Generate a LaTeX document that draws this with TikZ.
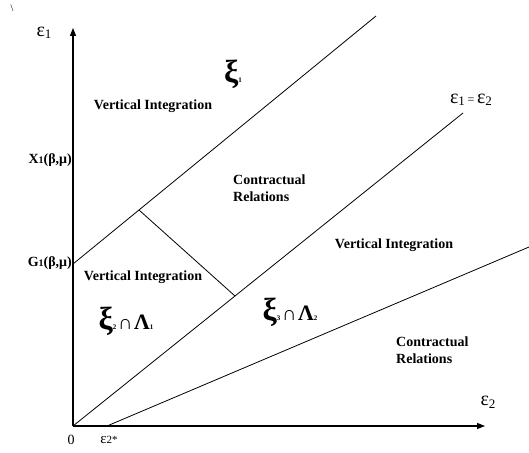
\documentclass[tikz,border=0pt]{standalone}
\usepackage{fontspec}
\setmainfont{Liberation Serif}
\usetikzlibrary{arrows.meta}
\newcommand{\epsx}[1]{{\fontsize{20}{20}\selectfont ε}\raisebox{-0.35ex}{\fontsize{13}{13}\selectfont #1}}
\newcommand{\xipart}[1]{{\fontsize{32}{32}\selectfont\bfseries ξ}{\fontsize{7}{7}\selectfont\bfseries #1}}
\newcommand{\lampart}[1]{{\fontsize{22}{22}\selectfont\bfseries Λ}{\fontsize{7}{7}\selectfont\bfseries #1}}
\newcommand{\capsym}{{\fontsize{20}{20}\selectfont ∩}}
\begin{document}
\begin{tikzpicture}[x=1pt,y=-1pt,
  ax/.style={line width=1.1pt,-{Triangle[length=8pt,width=6pt]}},
  bd/.style={line width=0.8pt},
  lbl/.style={font=\fontsize{14}{17}\selectfont\bfseries, inner sep=0pt},
  reg/.style={font=\fontsize{16}{18}\selectfont, inner sep=0pt},
  big/.style={inner sep=0pt},
]
\useasboundingbox (0,0) rectangle (529,452);
% key points
\coordinate (O) at (73,426);
\coordinate (ytip) at (73,28);
\coordinate (xtip) at (485,426);
\coordinate (G) at (73,264);
\coordinate (L1end) at (376,16);
\coordinate (L2end) at (463,113);
\coordinate (E2s) at (107,426);
\coordinate (L3end) at (529,247);
\coordinate (P1) at (139,210);
\coordinate (P2) at (235,296);
% lines
\draw[ax] (O) -- (ytip);
\draw[ax] (O) -- (xtip);
\draw[bd] (G) -- (L1end);
\draw[bd] (O) -- (L2end);
\draw[bd] (E2s) -- (L3end);
\draw[bd] (P1) -- (P2);
% texts
\node[reg, font=\fontsize{10}{10}\selectfont] (bs) at (12,8) {\textbackslash};
\node[reg] (e1) at (44,33) {\epsx{1}};
\node[lbl] (vi1) at (153,106) {Vertical Integration};
\node[big] (xi1) at (233,74) {\xipart{1}};
\node[lbl, anchor=east] (X1) at (72,160) {X{\fontsize{10}{10}\selectfont 1}(β,μ)};
\node[lbl, anchor=east] (G1) at (72,263) {G{\fontsize{10}{10}\selectfont 1}(β,μ)};
\node[lbl, align=left, anchor=west] (cr1) at (233,188) {Contractual\\Relations};
\node[reg] (eq) at (471,100) {\epsx{1}\,{\fontsize{12}{12}\selectfont =}\,\epsx{2}};
\node[lbl] (vi2) at (394,245) {Vertical Integration};
\node[lbl] (vi3) at (143,277) {Vertical Integration};
\node[big] (x2) at (126,321) {\xipart{2}\,\capsym\,\lampart{1}};
\node[big] (x3) at (290,312) {\xipart{3}\,\capsym\,\lampart{2}};
\node[lbl, align=left, anchor=west] (cr2) at (396,350) {Contractual\\Relations};
\node[reg] (e2) at (488,402) {\epsx{2}};
\node[reg, font=\fontsize{14}{14}\selectfont] (zero) at (71,440) {0};
\node[reg] (e2s) at (109,440) {{\fontsize{15}{15}\selectfont ε}{\fontsize{11}{11}\selectfont 2*}};
\end{tikzpicture}
\end{document}
